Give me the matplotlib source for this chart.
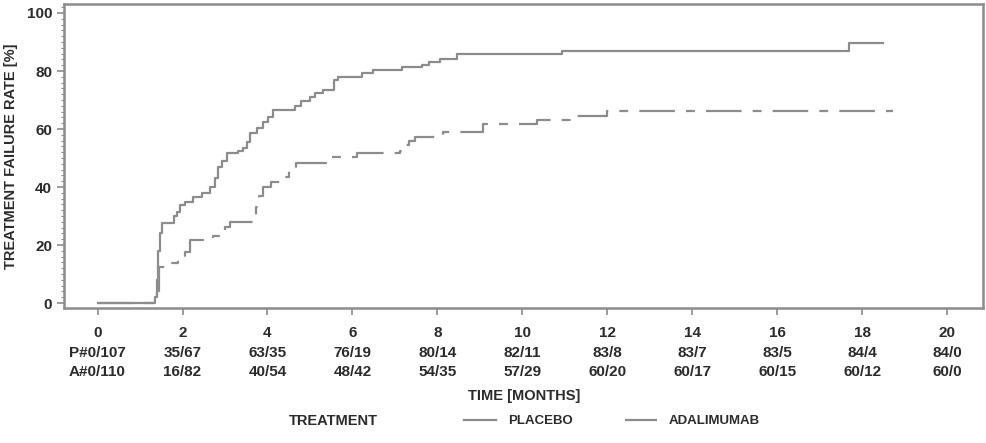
import matplotlib
matplotlib.use("Agg")
import matplotlib.pyplot as plt
from matplotlib.ticker import MultipleLocator

plt.rcParams['font.family'] = ['Liberation Sans', 'DejaVu Sans']
plt.rcParams['font.weight'] = 'bold'
plt.rcParams['axes.labelweight'] = 'bold'

# placebo curve (months, % failure), step after each time
placebo_t = [0, 1.36, 1.40, 1.43, 1.47, 1.51, 1.80, 1.86, 1.93, 2.05, 2.25, 2.45,
             2.65, 2.76, 2.84, 2.92, 3.04, 3.30, 3.43, 3.52, 3.59, 3.75, 3.90, 4.02,
             4.14, 4.65, 4.80, 5.00, 5.12, 5.31, 5.56, 5.65, 6.22, 6.49, 7.16, 7.63,
             7.80, 8.06, 8.45, 10.93, 17.68, 18.48]
placebo_r = [0, 2, 8, 18, 24, 27.5, 30, 31.5, 33.8, 35, 36.5, 38,
             40, 43, 46.9, 49, 51.7, 52.5, 53.3, 55.5, 58.6, 60.5, 62.4, 64,
             66.6, 68, 69.5, 71, 72.4, 73.4, 76.9, 78, 79.3, 80.3, 81.4, 82,
             83.1, 84, 85.7, 87, 89.8, 89.8]

# adalimumab curve
adal_t = [0, 1.40, 1.45, 1.75, 1.90, 2.06, 2.18, 2.72, 2.85, 3.00, 3.12, 3.72,
          3.80, 3.90, 4.08, 4.35, 4.50, 4.66, 5.40, 6.10, 7.12, 7.22, 7.33, 7.47,
          8.00, 8.13, 9.07, 10.34, 11.16, 11.98, 18.72]
adal_r = [0, 4, 12.4, 13.8, 15.5, 17.6, 21.7, 23, 24.5, 26.2, 28, 33,
          37, 40, 41.7, 43.4, 45.9, 48.3, 50.3, 51.7, 52.5, 54.5, 56, 57.2,
          58, 59, 61.7, 63.1, 64.6, 66.2, 66.2]

# number at risk table
months = [0, 2, 4, 6, 8, 10, 12, 14, 16, 18, 20]
placebo_risk = ['P#0/107', '35/67', '63/35', '76/19', '80/14', '82/11',
                '83/8', '83/7', '83/5', '84/4', '84/0']
adal_risk = ['A#0/110', '16/82', '40/54', '48/42', '54/35', '57/29',
             '60/20', '60/17', '60/15', '60/12', '60/0']

line_col = '#8c8c8c'
text_col = '#2b2b2b'

fig = plt.figure(figsize=(9.87, 4.43), dpi=100)
ax = fig.add_axes([0.0648, 0.3047, 0.9312, 0.6863])

l1, = ax.step(placebo_t, placebo_r, where='post', color=line_col, lw=1.6,
              label='PLACEBO')
l2, = ax.step(adal_t, adal_r, where='post', color=line_col, lw=1.6,
              dashes=(16, 5, 4, 5), label='ADALIMUMAB')

ax.set_xlim(-0.79, 20.84)
ax.set_ylim(-1.7, 103.1)

ax.set_xticks(months)
ax.set_xticklabels([f'{m}\n{p}\n{a}' for m, p, a in zip(months, placebo_risk, adal_risk)],
                   linespacing=1.5)
ax.set_yticks(range(0, 101, 20))
ax.yaxis.set_minor_locator(MultipleLocator(2))
ax.tick_params(axis='both', which='major', length=5, width=1.2, color=line_col,
               labelsize=11, labelcolor=text_col)
ax.tick_params(axis='y', which='minor', length=2, width=0.8, color=line_col)
ax.tick_params(axis='x', pad=8)

for s in ax.spines.values():
    s.set_color(line_col)
    s.set_linewidth(1.8)

ax.set_ylabel('TREATMENT FAILURE RATE [%]', fontsize=10.5, color=text_col, labelpad=6)
fig.text(0.531, 1 - 396 / 443, 'TIME [MONTHS]', ha='center', va='center',
         fontsize=10.5, color=text_col, fontweight='bold')

# legend
fig.text(333 / 987, 1 - 421 / 443, 'TREATMENT', ha='center', va='center',
         fontsize=10.5, color=text_col, fontweight='bold')
leg = fig.legend(handles=[l1, l2], loc='center', bbox_to_anchor=(612 / 987, 1 - 421 / 443),
                 ncol=2, frameon=False, fontsize=9.5, handlelength=2.4,
                 handletextpad=0.9, columnspacing=4.0, labelcolor=text_col)

fig.savefig('out.png', dpi=100)
